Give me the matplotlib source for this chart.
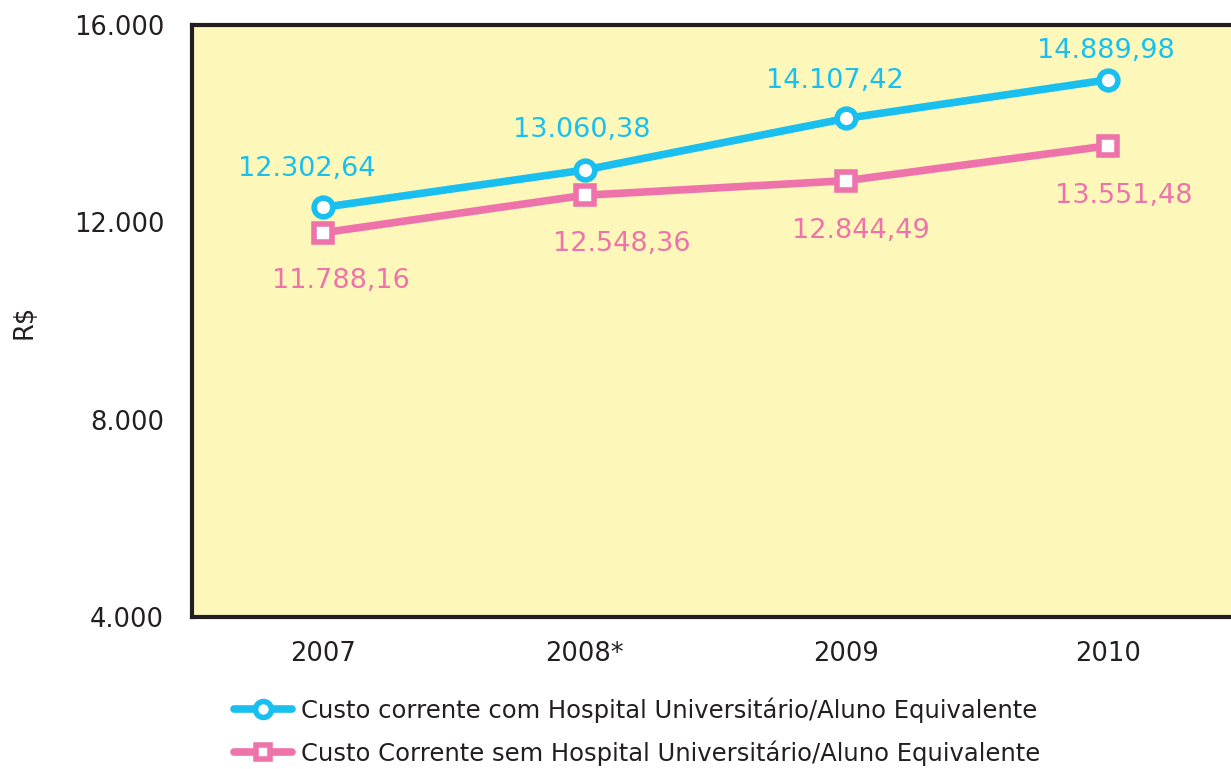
import matplotlib
matplotlib.use("Agg")
import matplotlib.pyplot as plt

years = ["2007", "2008*", "2009", "2010"]
com_hu = [12302.64, 13060.38, 14107.42, 14889.98]
sem_hu = [11788.16, 12548.36, 12844.49, 13551.48]
com_labels = ["12.302,64", "13.060,38", "14.107,42", "14.889,98"]
sem_labels = ["11.788,16", "12.548,36", "12.844,49", "13.551,48"]
yticks = [4000, 8000, 12000, 16000]
ytick_labels = ["4.000", "8.000", "12.000", "16.000"]
series_names = ["Custo corrente com Hospital Universitário/Aluno Equivalente",
                "Custo Corrente sem Hospital Universitário/Aluno Equivalente"]

blue = "#19c0ef"
pink = "#ee73aa"
dark = "#231f20"

plt.rcParams['font.family'] = ['DejaVu Sans']
fig = plt.figure(figsize=(12.31, 7.69), dpi=100)
ax = fig.add_axes([192/1231, 1-617/769, 1-192/1231, (617-25)/769])
ax.set_facecolor("#fdf8b9")

x = list(range(len(years)))
l1, = ax.plot(x, com_hu, color=blue, lw=5.5, marker='o', ms=13.5, mfc='white',
              mec=blue, mew=4, solid_capstyle='round', label=series_names[0], zorder=3)
l2, = ax.plot(x, sem_hu, color=pink, lw=5.5, marker='s', ms=12.5, mfc='white',
              mec=pink, mew=4, solid_capstyle='round', label=series_names[1], zorder=3)

blue_off = [(-16, 38), (-3, 40), (-11, 37), (-2, 29)]
pink_off = [(18, -48), (37, -49), (15, -50), (16, -50)]
for i in x:
    ax.annotate(com_labels[i], (x[i], com_hu[i]), xytext=blue_off[i], textcoords='offset pixels',
                ha='center', va='center', color=blue, fontsize=19.5)
    ax.annotate(sem_labels[i], (x[i], sem_hu[i]), xytext=pink_off[i], textcoords='offset pixels',
                ha='center', va='center', color=pink, fontsize=19.5)

ax.set_xlim(-0.5, 3.47)
ax.set_ylim(4000, 16000)
ax.set_xticks(x)
ax.set_xticklabels(years, fontsize=18.5, color=dark)
ax.set_yticks(yticks)
ax.set_yticklabels(ytick_labels, fontsize=18.5, color=dark)
ax.tick_params(axis='both', length=0)
ax.tick_params(axis='y', pad=20)
ax.tick_params(axis='x', pad=17)
for s in ['left', 'top', 'bottom']:
    ax.spines[s].set_linewidth(3)
    ax.spines[s].set_color(dark)
ax.spines['right'].set_visible(False)

fig.text(25/1231, 1-322/769, "R$", rotation=90, ha='center', va='center', fontsize=18.5, color=dark)

fig.legend(handles=[l1, l2], loc='upper left', bbox_to_anchor=(222/1231, 1-685/769),
           frameon=False, fontsize=17.5, handlelength=2.4, labelspacing=0.72,
           handletextpad=0.35, borderpad=0, labelcolor=dark, markerscale=0.85)

fig.savefig("out.png", dpi=100)
